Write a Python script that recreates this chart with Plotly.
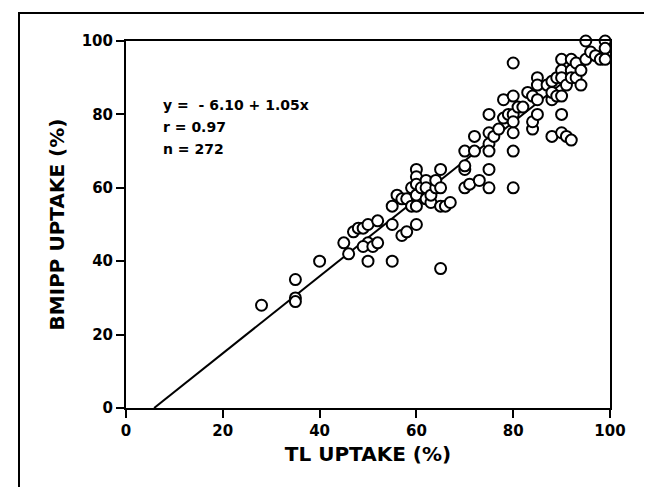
import plotly.graph_objects as go

# Data (TL uptake %, BMIPP uptake %)
tl_uptake = [28, 35, 35, 35, 40, 45, 46, 47, 48, 49, 50, 50, 49, 50, 51, 52, 52,
             55, 55, 55, 56, 57, 57, 58, 58, 59, 59, 60, 60, 60, 60, 60, 60,
             61, 62, 62, 62, 63, 63, 64, 64, 65, 65, 65, 65, 66, 67,
             70, 70, 70, 70, 71, 72, 72, 73,
             75, 75, 75, 75, 75, 75, 76, 77,
             78, 78, 79, 80, 80, 80, 80, 80, 80, 80, 81, 82,
             83, 84, 84, 84, 85, 85, 85, 85,
             87, 88, 88, 88, 88, 89, 89,
             90, 90, 90, 90, 90, 90, 91, 91, 92, 92, 92, 92,
             93, 93, 94, 94, 95, 95, 96, 97, 98, 99, 99, 99]
bmipp_uptake = [28, 35, 30, 29, 40, 45, 42, 48, 49, 49, 50, 45, 44, 40, 44, 45, 51,
                55, 50, 40, 58, 57, 47, 57, 48, 55, 60, 65, 63, 61, 58, 50, 55,
                60, 62, 57, 60, 56, 58, 60, 62, 65, 60, 55, 38, 55, 56,
                70, 65, 60, 66, 61, 70, 74, 62,
                80, 75, 72, 65, 60, 70, 74, 76,
                84, 79, 80, 94, 85, 80, 75, 70, 60, 78, 82, 82,
                86, 85, 76, 78, 90, 88, 80, 84,
                88, 89, 84, 74, 86, 90, 85,
                95, 92, 90, 85, 80, 75, 74, 88, 92, 73, 95, 90,
                94, 90, 88, 92, 100, 95, 97, 96, 95, 100, 98, 95]

intercept = -6.10
slope = 1.05
fit_x = [-intercept / slope, 100]
fit_y = [intercept + slope * v for v in fit_x]

x_ticks = [0, 20, 40, 60, 80, 100]
y_ticks = [0, 20, 40, 60, 80, 100]
stats_lines = ["y =  - 6.10 + 1.05x", "r = 0.97", "n = 272"]
stats_y = [82.5, 76.5, 70.5]

font_family = "DejaVu Sans, Liberation Sans, Arial, sans-serif"

fig = go.Figure()
fig.add_trace(go.Scatter(x=fit_x, y=fit_y, mode="lines",
                         line=dict(color="black", width=2), showlegend=False,
                         hoverinfo="skip"))
fig.add_trace(go.Scatter(x=tl_uptake, y=bmipp_uptake, mode="markers",
                         marker=dict(symbol="circle", size=11, color="white",
                                     line=dict(color="black", width=2)),
                         cliponaxis=False, showlegend=False))

for txt, yy in zip(stats_lines, stats_y):
    fig.add_annotation(x=7.2, y=yy, xref="x", yref="y",
                       text=txt, showarrow=False,
                       xanchor="left", yanchor="middle", align="left",
                       font=dict(family=font_family, size=14, color="black", weight="bold"))

# Outer frame
fig.add_shape(type="rect", xref="paper", yref="paper",
              x0=(11 - 118) / 484, x1=(649 - 118) / 484,
              y0=(400 - 495) / 367, y1=(400 - 5) / 367,
              line=dict(color="black", width=2), fillcolor="rgba(0,0,0,0)")

axis_common = dict(range=[0, 100], showgrid=False, zeroline=False,
                   showline=True, linecolor="black", linewidth=2, mirror=True,
                   ticks="outside", ticklen=8, tickwidth=2, tickcolor="black",
                   tickfont=dict(family=font_family, size=15, color="black", weight="bold"))

fig.update_layout(
    width=652, height=487,
    margin=dict(l=118, r=50, t=33, b=87),
    paper_bgcolor="white", plot_bgcolor="white",
    xaxis=dict(**axis_common, tickvals=x_ticks,
               title=dict(text="TL UPTAKE (%)", standoff=8,
                          font=dict(family=font_family, size=20, color="black", weight="bold"))),
    yaxis=dict(**axis_common, tickvals=y_ticks,
               title=dict(text="BMIPP UPTAKE (%)", standoff=12,
                          font=dict(family=font_family, size=20, color="black", weight="bold"))),
)

fig.write_html("out.html")
